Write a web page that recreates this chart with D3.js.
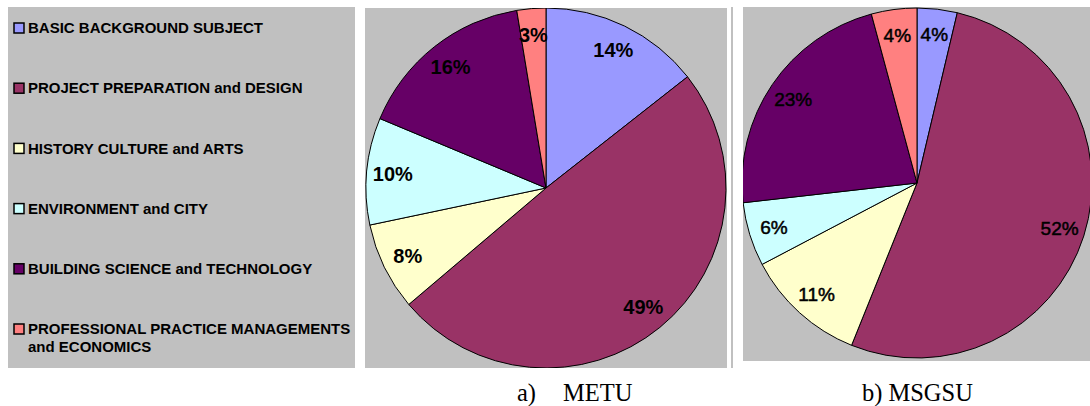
<!DOCTYPE html>
<html>
<head>
<meta charset="utf-8">
<script src="https://cdn.jsdelivr.net/npm/d3@7"></script>
<style>
  html, body { margin: 0; padding: 0; background: #ffffff; }
  svg { display: block; }
</style>
</head>
<body>
<svg id="chart" width="1090" height="406"></svg>
<script>
// ---- data ----
const categories = [
  "BASIC BACKGROUND SUBJECT",
  "PROJECT PREPARATION and DESIGN",
  "HISTORY CULTURE and ARTS",
  "ENVIRONMENT and CITY",
  "BUILDING SCIENCE and TECHNOLOGY",
  "PROFESSIONAL PRACTICE MANAGEMENTS\nand ECONOMICS"
];
const colors = ["#9999FF", "#993366", "#FFFFCC", "#CCFFFF", "#660066", "#FF8080"];
const metuValues  = [14.4, 49.4, 7.9, 9.6, 16.1, 2.6];
const msgsuValues = [3.7, 52.4, 11.2, 5.9, 22.6, 4.2];
const captions = [["a)", "METU"], ["b)", "MSGSU"]];

// ---- drawing ----
const svg = d3.select("#chart");
const gray = "#C0C0C0";
const fmt = v => d3.format(".0f")(v) + "%";

// Legend panel
svg.append("rect").attr("x", 8).attr("y", 7).attr("width", 347).attr("height", 361).attr("fill", gray);
const legendY = d3.scalePoint().domain(d3.range(categories.length)).range([28, 329]);
const leg = svg.append("g").selectAll("g").data(categories).join("g")
  .attr("transform", (d, i) => `translate(0,${legendY(i)})`);
leg.append("rect")
  .attr("x", 14).attr("y", -5).attr("width", 10).attr("height", 10)
  .attr("fill", (d, i) => colors[i]).attr("stroke", "#000").attr("stroke-width", 1.5);
leg.append("text")
  .attr("font-family", "Liberation Sans, Arial, sans-serif")
  .attr("font-weight", "bold").attr("font-size", 15).attr("fill", "#000")
  .selectAll("tspan").data(d => d.split("\n")).join("tspan")
  .attr("x", 28).attr("y", (d, j) => j * 18).attr("dy", "0.35em")
  .text(d => d);

// Pie panels
const panels = [
  { values: metuValues, px: 365, py: 8, pw: 362, ph: 360, cx: 546, cy: 188, r: 180, weight: "bold", fs: 20, sw: 0, cap: captions[0], capX: 517, capGap: 27 },
  { values: msgsuValues, px: 743, py: 7, pw: 347, ph: 354, cx: 917, cy: 183, r: 175, weight: "normal", fs: 19, sw: 0.5, cap: captions[1], capX: 862, capGap: 6 }
];

// thin separator strip
svg.append("rect").attr("x", 731).attr("y", 7).attr("width", 2).attr("height", 361).attr("fill", gray);

const pie = d3.pie().sort(null).value(d => d);

panels.forEach((p, k) => {
  svg.append("rect").attr("x", p.px).attr("y", p.py).attr("width", p.pw).attr("height", p.ph).attr("fill", gray);
  const clipId = "clip" + k;
  svg.append("clipPath").attr("id", clipId)
    .append("rect").attr("x", p.px).attr("y", p.py).attr("width", p.pw).attr("height", p.ph);
  const g = svg.append("g").attr("clip-path", `url(#${clipId})`)
    .append("g").attr("transform", `translate(${p.cx},${p.cy})`);
  const arc = d3.arc().innerRadius(0).outerRadius(p.r);
  const labelArc = d3.arc().innerRadius(p.r * 0.855).outerRadius(p.r * 0.855);
  const arcs = pie(p.values);
  g.selectAll("path").data(arcs).join("path")
    .attr("d", arc)
    .attr("fill", (d, i) => colors[i])
    .attr("stroke", "#000").attr("stroke-width", 1).attr("stroke-linejoin", "round");
  g.selectAll("text").data(arcs).join("text")
    .attr("transform", d => `translate(${labelArc.centroid(d)})`)
    .attr("text-anchor", "middle").attr("dy", "0.36em")
    .attr("font-family", "Liberation Sans, Arial, sans-serif")
    .attr("font-weight", p.weight).attr("font-size", p.fs).attr("fill", "#000")
    .attr("stroke", p.sw ? "#000" : "none").attr("stroke-width", p.sw)
    .text(d => fmt(d.data));

  const t = svg.append("text")
    .attr("x", p.capX).attr("y", 401)
    .attr("font-family", "Liberation Serif, Times New Roman, serif")
    .attr("font-size", 24.5).attr("fill", "#000");
  t.append("tspan").text(p.cap[0]);
  t.append("tspan").attr("dx", p.capGap).text(p.cap[1]);
});
</script>
</body>
</html>
